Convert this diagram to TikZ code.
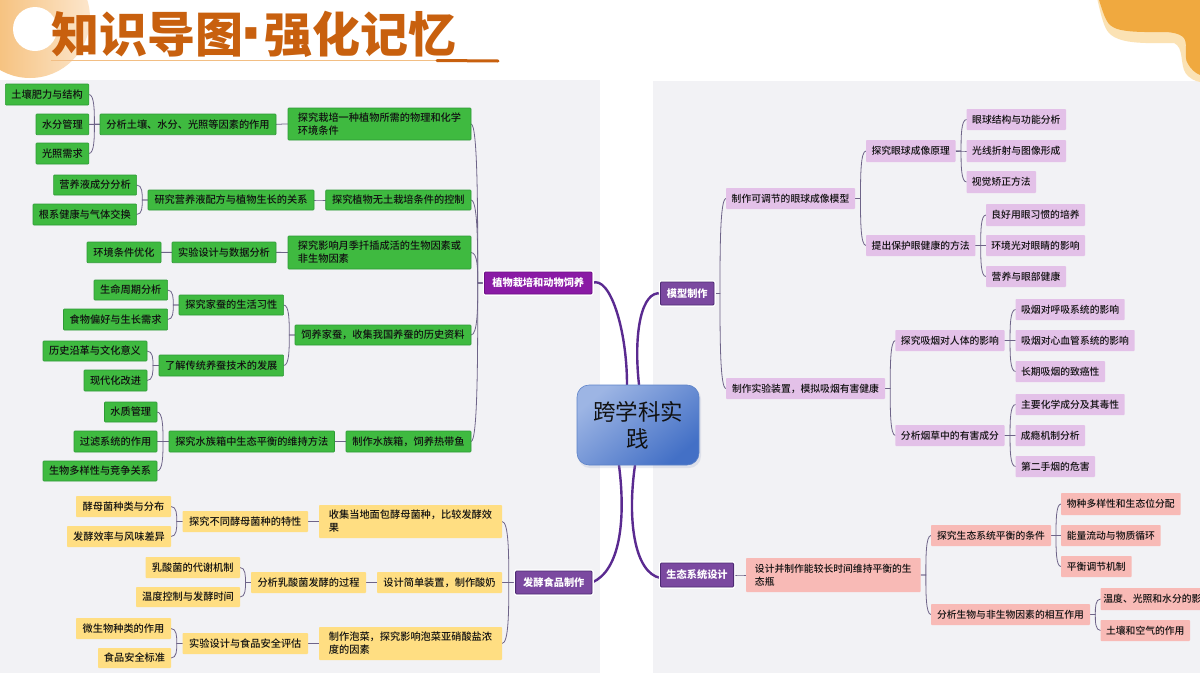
\documentclass[tikz,border=0pt]{standalone}
\usepackage{fontspec}
\setmainfont{Noto Sans CJK SC}
\newfontfamily\dotfont{Liberation Sans}
\newfontfamily\medf{Noto Sans CJK SC Medium}
\usetikzlibrary{calc,backgrounds}
\definecolor{panelc}{HTML}{F2F2F5}
\definecolor{conn}{HTML}{6E6488}
\definecolor{thickc}{HTML}{5A2A90}
\definecolor{titlec}{HTML}{C8600E}
\definecolor{inkc}{HTML}{111111}
\definecolor{HTMLgreen}{HTML}{3FBA40}
\definecolor{HTMLgreend}{HTML}{2D9A35}
\definecolor{HTMLyellow}{HTML}{FFDE82}
\definecolor{HTMLlilac}{HTML}{E3C1E8}
\definecolor{HTMLpink}{HTML}{F8BAB6}
\definecolor{HTMLplum}{HTML}{8A1AA5}
\definecolor{HTMLplumd}{HTML}{6C1085}
\definecolor{HTMLviolet}{HTML}{7B49A0}
\definecolor{HTMLvioletd}{HTML}{4C2A72}
\definecolor{HTMLdecoL}{HTML}{F4B768}
\definecolor{HTMLdecoR}{HTML}{FCE6CC}
\definecolor{HTMLpale}{HTML}{FBE2B4}
\definecolor{HTMLorange}{HTML}{F0A93F}
\definecolor{HTMLunder}{HTML}{F2BE84}
\definecolor{HTMLshadow}{HTML}{8C9CC0}
\definecolor{HTMLcentreb}{HTML}{5C82C8}
\definecolor{HTMLcentreL}{HTML}{9DB5E4}
\definecolor{HTMLcentreD}{HTML}{4370C6}
\tikzset{
  base/.style={inner sep=0pt,outer sep=0pt,align=left,text=inkc,rounded corners=0.8pt},
  greenbox/.style={base,fill=HTMLgreen,draw=HTMLgreend,line width=0.6pt,font=\medf\fontsize{10.2}{13}\selectfont},
  yellowbox/.style={base,fill=HTMLyellow,font=\medf\fontsize{10.2}{13}\selectfont},
  lilacbox/.style={base,fill=HTMLlilac,font=\medf\fontsize{9.8}{13}\selectfont},
  pinkbox/.style={base,fill=HTMLpink,font=\medf\fontsize{9.8}{13}\selectfont},
  mainbox/.style={base,text=white,line width=0.8pt,rounded corners=1pt,font=\fontsize{10.2}{13}\selectfont\bfseries,preaction={draw=white,line width=3.5pt}},
  plum/.style={mainbox,fill=HTMLplum,draw=HTMLplumd},
  violet/.style={mainbox,fill=HTMLviolet,draw=HTMLvioletd},
  thinline/.style={draw=conn,line width=0.8pt},
  thickline/.style={draw=thickc,line width=2.4pt,line cap=round},
}
\newcommand\bx[7]{\node[#2,minimum width={(#5-#3)*1pt},minimum height={(#6-#4)*1pt}] (#1) at ({(#3+#5)/2},{(#4+#6)/2}) {#7};}
\newcommand\lnkL[2]{%
  \coordinate (m) at ($(#1.west)!.5!(#2.east)$);
  \coordinate (t) at (m |- #1.west);
  \coordinate (u) at (m |- #2.east);
  \draw[thinline] (#2.east) .. controls (u) and ($(u)!.55!(t)$) .. (t) -- (#1.west);}
\newcommand\lnkR[2]{%
  \coordinate (m) at ($(#1.east)!.5!(#2.west)$);
  \coordinate (t) at (m |- #1.east);
  \coordinate (u) at (m |- #2.west);
  \draw[thinline] (#2.west) .. controls (u) and ($(u)!.55!(t)$) .. (t) -- (#1.east);}
\begin{document}
\begin{tikzpicture}[x=1pt,y=-1pt]
\useasboundingbox (0,0) rectangle (1200,675);
\begin{pgfonlayer}{background}
\fill[white] (0,0) rectangle (1200,675);
\fill[panelc] (0,80) rectangle (600,673);
\fill[panelc] (653,81) rectangle (1200,673);
\end{pgfonlayer}
% decorations
\begin{scope}
\clip (0,0) rectangle (1200,675);
\shade[left color=HTMLdecoL,right color=HTMLdecoR] (30,18) circle[radius=60];
\fill[white] (35,29) circle[radius=22];
\fill[HTMLpale] (1097.5,0) .. controls (1101,15) and (1104,28) .. (1109,33) .. controls (1120,45) and (1150,43) .. (1174,43) .. controls (1184,47) and (1180,65) .. (1185.5,73) .. controls (1190,79) and (1195,81) .. (1200,82) -- (1200,0) -- cycle;
\fill[HTMLorange] (1099,0) .. controls (1103,12) and (1106,24) .. (1113,27) .. controls (1122,33) and (1150,32) .. (1166,32) .. controls (1182,33) and (1186,38) .. (1186,45) .. controls (1186,55) and (1185,60) .. (1188,64) .. controls (1191,69) and (1195,73) .. (1200,75) -- (1200,0) -- cycle;
\end{scope}
\node[anchor=west,inner sep=0pt,text=titlec,font=\fontsize{48}{48}\selectfont\bfseries] (title) at (51,35) {知识导图\kern-2.5pt\raisebox{-7pt}{\dotfont\fontsize{78}{48}\selectfont ·}\kern-2.5pt强化记忆};
\coordinate (ul0) at (51,60.5);
\coordinate (ul1) at (437,60.5);
\coordinate (ul2) at (498,61);
\draw[HTMLunder,line width=1.4pt] (ul0) -- (ul1);
\draw[titlec,line width=3pt,line cap=round] (ul1) -- (ul2);

% left green
\bx{a1}{greenbox}{5.4}{84}{88.8}{105}{土壤肥力与结构}
\bx{a2}{greenbox}{36}{114}{88.8}{134.7}{水分管理}
\bx{a3}{greenbox}{36}{143}{88.8}{164}{光照需求}
\bx{a}{greenbox}{100}{114}{276}{134.7}{分析土壤、水分、光照等因素的作用}
\bx{A}{greenbox}{288}{108}{471}{140}{探究栽培一种植物所需的物理和化学\\环境条件}
\bx{b1}{greenbox}{53.6}{175}{136.6}{195}{营养液成分分析}
\bx{b2}{greenbox}{33}{204}{136.6}{225}{根系健康与气体交换}
\bx{b}{greenbox}{148}{190}{314}{210}{研究营养液配方与植物生长的关系}
\bx{B}{greenbox}{325.7}{190}{471}{210}{探究植物无土栽培条件的控制}
\bx{c1}{greenbox}{87}{242}{161}{262.7}{环境条件优化}
\bx{c}{greenbox}{172}{242}{276}{262.7}{实验设计与数据分析}
\bx{C}{greenbox}{288}{236}{471}{269}{探究影响月季扦插成活的生物因素或\\非生物因素}
\bx{d1}{greenbox}{94}{280}{167.6}{300}{生命周期分析}
\bx{d2}{greenbox}{63.5}{309}{167.6}{330}{食物偏好与生长需求}
\bx{d}{greenbox}{179}{295}{283.6}{315}{探究家蚕的生活习性}
\bx{D}{greenbox}{295}{325}{471}{345}{饲养家蚕，收集我国养蚕的历史资料}
\bx{e1}{greenbox}{43}{341}{147}{361}{历史沿革与文化意义}
\bx{e2}{greenbox}{84}{370}{147}{391}{现代化改进}
\bx{e}{greenbox}{159}{355}{283.6}{376}{了解传统养蚕技术的发展}
\bx{f1}{greenbox}{104.5}{402}{157}{422}{水质管理}
\bx{f2}{greenbox}{74}{431}{157}{452}{过滤系统的作用}
\bx{f3}{greenbox}{43}{461}{157}{481}{生物多样性与竞争关系}
\bx{f}{greenbox}{169}{431}{334.5}{452}{探究水族箱中生态平衡的维持方法}
\bx{F}{greenbox}{346}{431}{471}{452}{制作水族箱，饲养热带鱼}
\bx{P}{plum}{484.5}{272}{592}{294}{植物栽培和动物饲养}
% left yellow
\bx{g1}{yellowbox}{76}{496}{171}{517}{酵母菌种类与分布}
\bx{g2}{yellowbox}{67}{526}{171}{547}{发酵效率与风味差异}
\bx{g}{yellowbox}{182.6}{511}{308}{532}{探究不同酵母菌种的特性}
\bx{G}{yellowbox}{319}{505}{502}{538}{收集当地面包酵母菌种，比较发酵效\\果}
\bx{h1}{yellowbox}{145.5}{557}{240}{578}{乳酸菌的代谢机制}
\bx{h2}{yellowbox}{136}{587}{240}{607}{温度控制与发酵时间}
\bx{h}{yellowbox}{251}{572}{366}{593}{分析乳酸菌发酵的过程}
\bx{H}{yellowbox}{377}{572}{502}{593}{设计简单装置，制作酸奶}
\bx{i1}{yellowbox}{76}{618}{171}{639}{微生物种类的作用}
\bx{i2}{yellowbox}{98}{648}{171}{668}{食品安全标准}
\bx{i}{yellowbox}{182.6}{633}{308}{654}{实验设计与食品安全评估}
\bx{I}{yellowbox}{319}{627}{502}{660}{制作泡菜，探究影响泡菜亚硝酸盐浓\\度的因素}
\bx{Q}{violet}{515.6}{571}{592}{594}{发酵食品制作}
% right lilac
\bx{R}{violet}{660.5}{282}{714}{305}{模型制作}
\bx{J}{lilacbox}{726}{188}{855}{209}{制作可调节的眼球成像模型}
\bx{j}{lilacbox}{866}{140}{955.5}{162}{探究眼球成像原理}
\bx{j1}{lilacbox}{966.6}{109}{1066}{130}{眼球结构与功能分析}
\bx{j2}{lilacbox}{966.6}{140}{1066}{162}{光线折射与图像形成}
\bx{j3}{lilacbox}{966.6}{171}{1036}{193}{视觉矫正方法}
\bx{k}{lilacbox}{866}{235}{975.4}{256}{提出保护眼健康的方法}
\bx{k1}{lilacbox}{986}{204}{1085}{226}{良好用眼习惯的培养}
\bx{k2}{lilacbox}{986}{235}{1085}{256}{环境光对眼睛的影响}
\bx{k3}{lilacbox}{986}{266}{1066}{287}{营养与眼部健康}
\bx{K}{lilacbox}{726}{378}{885}{399}{制作实验装置，模拟吸烟有害健康}
\bx{l}{lilacbox}{895.4}{330}{1004.5}{351}{探究吸烟对人体的影响}
\bx{l1}{lilacbox}{1015.6}{299}{1124.7}{320}{吸烟对呼吸系统的影响}
\bx{l2}{lilacbox}{1015.6}{330}{1134.6}{351}{吸烟对心血管系统的影响}
\bx{l3}{lilacbox}{1015.6}{361}{1105}{382}{长期吸烟的致癌性}
\bx{n}{lilacbox}{895.4}{425}{1004.5}{446}{分析烟草中的有害成分}
\bx{n1}{lilacbox}{1015.6}{394}{1124.7}{415}{主要化学成分及其毒性}
\bx{n2}{lilacbox}{1015.6}{425}{1085}{446}{成瘾机制分析}
\bx{n3}{lilacbox}{1015.6}{456}{1095}{477}{第二手烟的危害}
% right pink
\bx{S}{violet}{660.5}{563}{733.6}{587}{生态系统设计}
\bx{O}{pinkbox}{746}{558}{920.7}{592}{设计并制作能较长时间维持平衡的生\\态瓶}
\bx{o}{pinkbox}{931}{525}{1051}{546}{探究生态系统平衡的条件}
\bx{o1}{pinkbox}{1061}{493}{1180.6}{515}{物种多样性和生态位分配}
\bx{o2}{pinkbox}{1061}{525}{1160.7}{546}{能量流动与物质循环}
\bx{o3}{pinkbox}{1061}{556}{1131.6}{577}{平衡调节机制}
\bx{q}{pinkbox}{931}{604}{1090}{625}{分析生物与非生物因素的相互作用}
\begin{scope}
\clip (1090,580) rectangle (1200,615);
\bx{q1}{pinkbox}{1100.6}{588}{1214}{610}{温度、光照和水分的影响}
\end{scope}
\bx{q2}{pinkbox}{1100.6}{620}{1190}{641}{土壤和空气的作用}
% centre
\fill[HTMLshadow,opacity=.2,rounded corners=12pt] (578,387) rectangle (701,468);
\node[draw=HTMLcentreb,line width=0.6pt,rounded corners=12pt,top color=HTMLcentreL,bottom color=HTMLcentreD,shading angle=40,minimum width=122pt,minimum height=80pt,inner sep=0pt,align=center,text=inkc,font=\fontsize{22.5}{27}\selectfont] (ctr) at (638,425) {跨学科实\\践};

\begin{pgfonlayer}{background}
\lnkL{a}{a1}\lnkL{a}{a2}\lnkL{a}{a3}\lnkL{A}{a}
\lnkL{b}{b1}\lnkL{b}{b2}\lnkL{B}{b}
\lnkL{c}{c1}\lnkL{C}{c}
\lnkL{d}{d1}\lnkL{d}{d2}\lnkL{e}{e1}\lnkL{e}{e2}\lnkL{D}{d}\lnkL{D}{e}
\lnkL{f}{f1}\lnkL{f}{f2}\lnkL{f}{f3}\lnkL{F}{f}
\lnkL{P}{A}\lnkL{P}{B}\lnkL{P}{C}\lnkL{P}{D}\lnkL{P}{F}
\lnkL{g}{g1}\lnkL{g}{g2}\lnkL{G}{g}
\lnkL{h}{h1}\lnkL{h}{h2}\lnkL{H}{h}
\lnkL{i}{i1}\lnkL{i}{i2}\lnkL{I}{i}
\lnkL{Q}{G}\lnkL{Q}{H}\lnkL{Q}{I}
\lnkR{R}{J}\lnkR{R}{K}
\lnkR{J}{j}\lnkR{J}{k}
\lnkR{j}{j1}\lnkR{j}{j2}\lnkR{j}{j3}
\lnkR{k}{k1}\lnkR{k}{k2}\lnkR{k}{k3}
\lnkR{K}{l}\lnkR{K}{n}
\lnkR{l}{l1}\lnkR{l}{l2}\lnkR{l}{l3}
\lnkR{n}{n1}\lnkR{n}{n2}\lnkR{n}{n3}
\lnkR{S}{O}\lnkR{O}{o}\lnkR{O}{q}
\lnkR{o}{o1}\lnkR{o}{o2}\lnkR{o}{o3}
\lnkR{q}{q1}\lnkR{q}{q2}
\draw[thickline] ([xshift=-11pt]ctr.north) .. controls +(0,-55) and +(18,-8) .. (P.east);
\draw[thickline] ([xshift=1pt]ctr.north) .. controls +(-6,-55) and +(-18,-3) .. ([yshift=0pt]R.west);
\draw[thickline] ([xshift=-19pt]ctr.south) .. controls +(7,55) and +(28,-12) .. (Q.east);
\draw[thickline] ([xshift=-3pt]ctr.south) .. controls +(-8,55) and +(-26,-5) .. ([yshift=-3pt]S.west);
\end{pgfonlayer}
\end{tikzpicture}
\end{document}
